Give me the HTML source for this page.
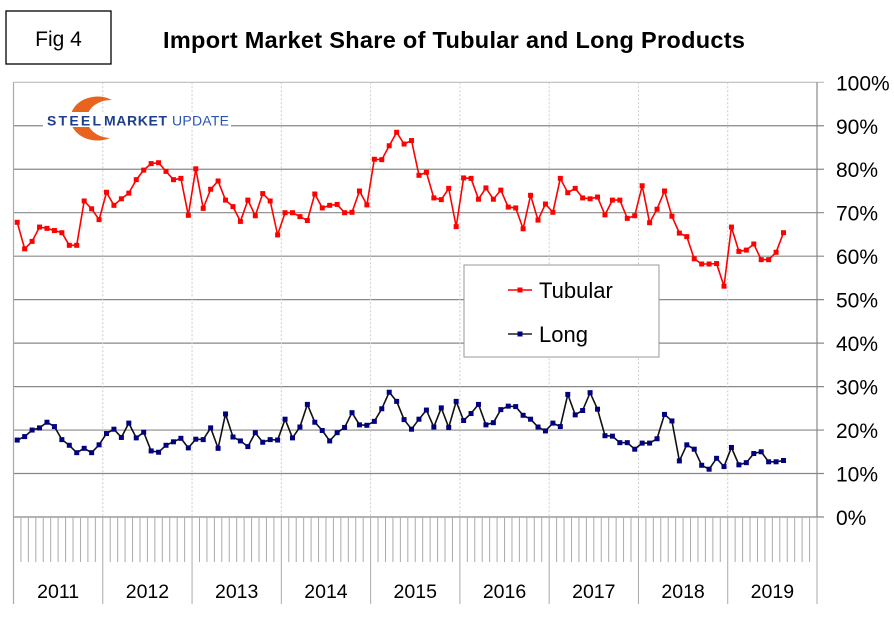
<!DOCTYPE html>
<html><head><meta charset="utf-8"><style>
body{margin:0;background:#fff;font-family:"Liberation Sans",Arial,sans-serif}
svg{display:block}
</style></head><body>
<svg id="chart" width="894" height="622" viewBox="0 0 894 622">
<rect x="0" y="0" width="894" height="622" fill="#fff"/>
<rect x="6" y="11" width="105" height="53" fill="#fff" stroke="#000" stroke-width="1.3"/>
<text x="58.5" y="46" font-size="21" text-anchor="middle">Fig 4</text>
<text x="454" y="48" font-size="23.5" font-weight="bold" text-anchor="middle" textLength="582">Import Market Share of Tubular and Long Products</text>
<g id="grid"></g>
<g id="xaxis"></g>
<g id="logo">
<path d="M112,100 A27,22 0 1 0 110,138 A24,19 0 1 1 112,100 Z" fill="#e8641e"/>
<rect x="43" y="112" width="188" height="15" fill="#fff"/>
<text x="47" y="125.5" font-size="14" font-weight="bold" fill="#1d3f8c" textLength="54">STEEL</text>
<text x="104" y="125.5" font-size="14" fill="#1d3f8c" font-weight="bold" textLength="63">MARKET</text>
<text x="172" y="125.5" font-size="14" fill="#2a55b0" textLength="57">UPDATE</text>
</g>
<g id="series"></g>
<g>
<rect x="464" y="265" width="195" height="92" fill="#fff" stroke="#999" stroke-width="1"/>
<line x1="508" y1="290" x2="532" y2="290" stroke="#f00" stroke-width="1.5"/>
<rect x="517.5" y="287.5" width="5" height="5" fill="#f00"/>
<text x="539" y="298" font-size="22">Tubular</text>
<line x1="508" y1="334" x2="532" y2="334" stroke="#222" stroke-width="1.5"/>
<rect x="517.5" y="331.5" width="5" height="5" fill="#000080"/>
<text x="539" y="342" font-size="22">Long</text>
</g>
</svg>
<script>
const years = ["2011","2012","2013","2014","2015","2016","2017","2018","2019"];
const yTicks = [0,10,20,30,40,50,60,70,80,90,100];
const tubular = [67.8,61.7,63.4,66.7,66.4,65.9,65.4,62.5,62.5,72.7,70.9,68.4,
74.7,71.7,73.2,74.5,77.6,79.8,81.3,81.5,79.5,77.6,77.9,69.4,
80.1,71.0,75.4,77.3,72.9,71.4,68.0,72.9,69.3,74.4,72.7,64.9,
70.0,70.0,69.1,68.2,74.3,71.1,71.7,71.9,70.0,70.1,75.0,71.8,
82.3,82.2,85.4,88.5,85.8,86.6,78.6,79.3,73.4,73.0,75.6,66.8,
78.0,77.9,73.1,75.7,73.1,75.2,71.3,71.1,66.3,74.0,68.3,72.0,
70.1,77.9,74.6,75.6,73.4,73.2,73.6,69.5,72.9,72.9,68.7,69.3,
76.2,67.7,70.8,75.0,69.2,65.3,64.5,59.4,58.2,58.2,58.3,53.1,
66.7,61.1,61.4,62.8,59.2,59.2,60.9,65.4];
const longP = [17.7,18.5,20.0,20.5,21.8,20.8,17.8,16.5,14.8,15.8,14.8,16.6,
19.2,20.2,18.3,21.6,18.2,19.5,15.2,14.9,16.5,17.3,18.1,15.9,
17.9,17.8,20.5,15.8,23.7,18.4,17.5,16.2,19.4,17.2,17.8,17.7,
22.5,18.2,20.7,25.9,21.8,19.9,17.5,19.4,20.6,24.0,21.2,21.1,
22.0,24.9,28.7,26.6,22.4,20.2,22.5,24.6,20.7,25.1,20.6,26.6,
22.2,23.8,25.9,21.2,21.7,24.7,25.5,25.4,23.4,22.5,20.7,19.8,
21.6,20.8,28.2,23.5,24.5,28.6,24.8,18.7,18.6,17.1,17.1,15.6,
17.0,17.0,18.0,23.6,22.1,12.9,16.6,15.6,11.9,11.0,13.5,11.6,
16.0,12.0,12.5,14.6,15.0,12.7,12.7,13.0];

const NS="http://www.w3.org/2000/svg";
const X0=13.5, X1=817, Y0=517, Y1=82.3;
const monthW=(X1-X0)/(years.length*12);
function xScale(i){return X0+(i+0.5)*monthW;}
function yScale(v){return Y0-(v/100)*(Y0-Y1);}
function mk(tag,attrs,parent){const e=document.createElementNS(NS,tag);for(const k in attrs)e.setAttribute(k,attrs[k]);parent.appendChild(e);return e;}

const grid=document.getElementById('grid');
yTicks.forEach(t=>{
  const y=yScale(t);
  const l=mk('line',{x1:X0,x2:X1+7,y1:y,y2:y,stroke:t===100?'#bbb':'#888','stroke-width':1.2},grid);
  
  
  const tx=mk('text',{x:836,y:y+8,'font-size':21},grid);
  tx.textContent=t+'%';
  
  
});
for(let k=1;k<years.length;k++){
  const x=X0+k*12*monthW;
  const l=mk('line',{x1:x,x2:x,y1:Y1,y2:Y0,stroke:'#ccc','stroke-dasharray':'2,2'},grid);
  
  
}
mk('line',{x1:X0,x2:X0,y1:Y1,y2:604,stroke:'#aaa','stroke-width':1.2},grid);
mk('line',{x1:X1,x2:X1,y1:Y1,y2:Y0,stroke:'#888','stroke-width':1.2},grid);

const xa=document.getElementById('xaxis');
for(let m=1;m<years.length*12;m++){
  const x=X0+m*monthW;
  const isYear=m%12===0;
  mk('line',{x1:x,x2:x,y1:Y0,y2:isYear?604:562,stroke:'#aaa','stroke-width':1},xa);
}
mk('line',{x1:X1,x2:X1,y1:Y0,y2:604,stroke:'#aaa','stroke-width':1},xa);
years.forEach((yr,k)=>{
  const t=mk('text',{x:X0+(k+0.5)*12*monthW,y:598,'font-size':19.5,'text-anchor':'middle'},xa);
  t.textContent=yr;
  
  
});

const sg=document.getElementById('series');
function draw(data,lineColor,markColor,name){
  const pts=data.map((v,i)=>xScale(i).toFixed(1)+','+yScale(v).toFixed(1)).join(' ');
  const pl=mk('polyline',{points:pts,fill:'none',stroke:lineColor,'stroke-width':1.6},sg);
  
  
  data.forEach((v,i)=>{
    const r=mk('rect',{x:xScale(i)-2.5,y:yScale(v)-2.5,width:5,height:5,fill:markColor},sg);
    
    
  });
}
draw(tubular,'#f00','#f00','tubular');
draw(longP,'#111','#000080','long');
</script>
</body></html>
